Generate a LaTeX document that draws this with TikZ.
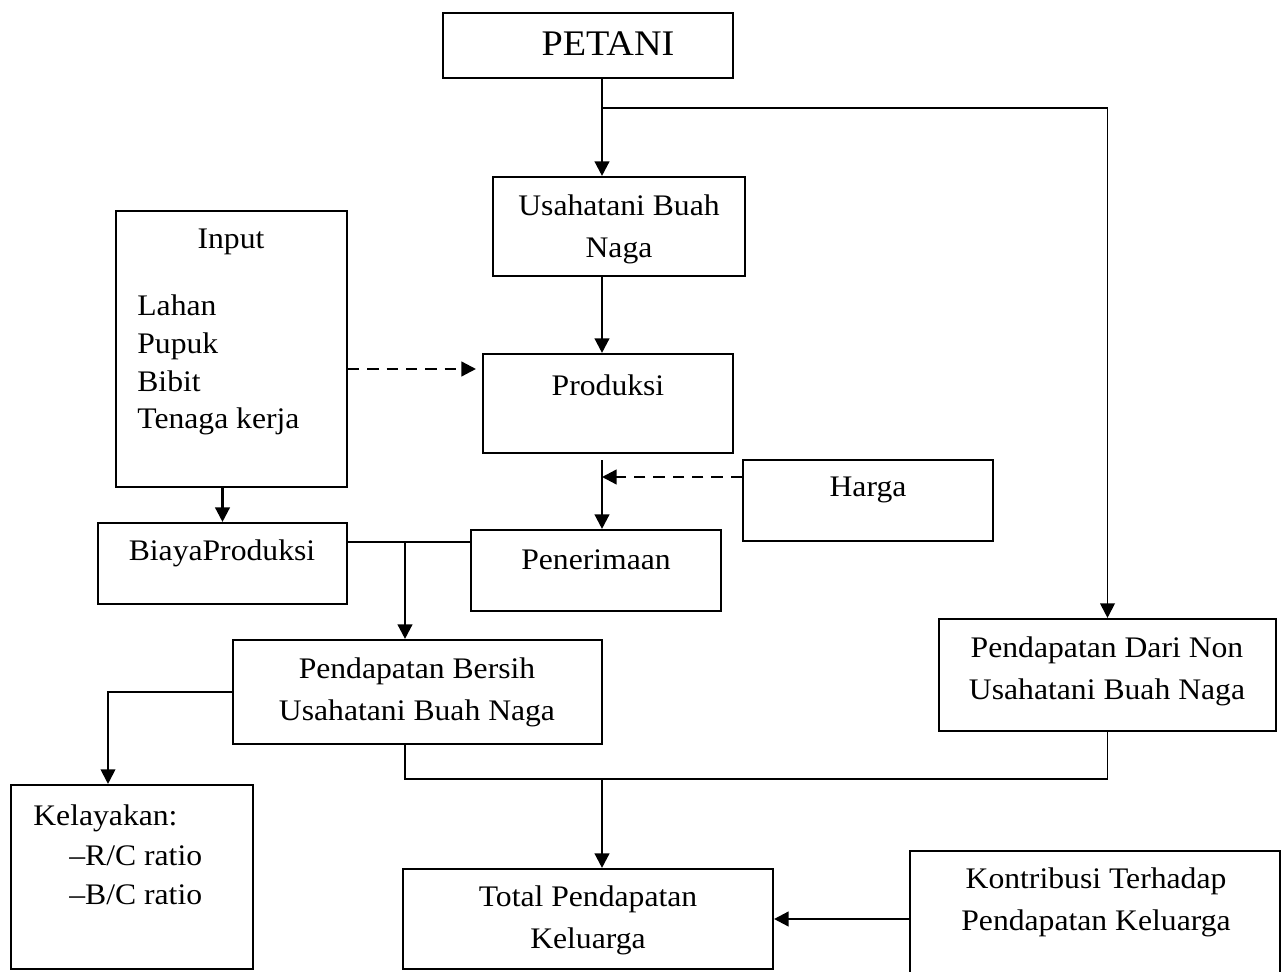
\documentclass[tikz,border=0pt]{standalone}
\usepackage{fontspec}
\setmainfont{Liberation Serif}[FakeStretch=1.06]
\usetikzlibrary{arrows.meta}

\begin{document}
\begin{tikzpicture}[x=0.02cm, y=-0.02cm,
  box/.style={draw, line width=1.2pt, inner sep=0pt},
  txt/.style={font=\fontsize{17}{24}\selectfont, inner sep=0pt, align=center},
  list/.style={font=\fontsize{17}{21.5}\selectfont, inner sep=0pt, align=left, anchor=west},
  arr/.style={-{Triangle[length=0.29cm,width=0.29cm]}, line width=1.35pt},
  dash arr/.style={arr, dash pattern=on 6.5pt off 4.5pt}]

    \useasboundingbox (0,0) rectangle (1281,972);

    % kotak
    \node[box, minimum width=5.8cm, minimum height=1.3cm] (petani) at (588,45.5) {};
    \node[box, minimum width=5.04cm, minimum height=1.98cm] (usaha) at (619,226.5) {};
    \node[box, minimum width=4.62cm, minimum height=5.52cm] (input) at (231.5,349) {};
    \node[box, minimum width=5cm, minimum height=1.98cm] (prod) at (608,403.5) {};
    \node[box, minimum width=5cm, minimum height=1.62cm] (harga) at (868,500.5) {};
    \node[box, minimum width=4.98cm, minimum height=1.62cm] (biaya) at (222.5,563.5) {};
    \node[box, minimum width=5cm, minimum height=1.62cm] (terima) at (596,570.5) {};
    \node[box, minimum width=7.38cm, minimum height=2.08cm] (bersih) at (417.5,692) {};
    \node[box, minimum width=6.74cm, minimum height=2.24cm] (nonusaha) at (1107.5,675) {};
    \node[box, minimum width=4.84cm, minimum height=3.68cm] (layak) at (132,877) {};
    \node[box, minimum width=7.4cm, minimum height=2cm] (total) at (588,919) {};
    \node[box, minimum width=7.4cm, minimum height=2.78cm] (kontrib) at (1095,920.5) {};

    % teks
    \node[txt, font=\fontsize{20.5}{24}\selectfont] (petani-t) at (608,44) {PETANI};
    \node[txt] (usaha-t) at (619,229) {Usahatani Buah\\Naga};
    \node[txt] (input-t) at (231,242) {Input};
    \node[list] (input-l) at (137,365) {Lahan\\Pupuk\\Bibit\\Tenaga kerja};
    \node[txt] (prod-t) at (608,385) {Produksi};
    \node[txt] (harga-t) at (868,490) {Harga};
    \node[txt] (biaya-t) at (222,553) {BiayaProduksi};
    \node[txt] (terima-t) at (596,560) {Penerimaan};
    \node[txt] (bersih-t) at (417,692) {Pendapatan Bersih\\Usahatani Buah Naga};
    \node[txt] (nonusaha-t) at (1107,671) {Pendapatan Dari Non\\Usahatani Buah Naga};
    \node[list, font=\fontsize{17}{22.5}\selectfont] (layak-t) at (33,855) {Kelayakan:\\\hspace{0.72cm}–R/C ratio\\\hspace{0.72cm}–B/C ratio};
    \node[txt] (total-t) at (588,920) {Total Pendapatan\\Keluarga};
    \node[txt] (kontrib-t) at (1096,902) {Kontribusi Terhadap\\Pendapatan Keluarga};

    % titik bantu
    \coordinate (trunk) at (602,0);
    \coordinate (split) at (602,108);
    \coordinate (hp) at (602,477);
    \coordinate (iy) at (0,369);
    \coordinate (jn) at (405,542);
    \coordinate (kl) at (108,0);
    \coordinate (mg) at (602,779);

    % panah
    \draw[arr] (petani.south -| trunk) -- (usaha.north -| trunk);
    \draw[arr, line width=1.1pt] (split) -| (nonusaha.north);
    \draw[arr] (usaha.south -| trunk) -- (prod.north -| trunk);
    \draw[arr] ([yshift=-0.12cm]prod.south -| trunk) -- (terima.north -| trunk);
    \draw[dash arr] (harga.west |- hp) -- (hp);
    \draw[dash arr, shorten >=0.12cm] (input.east |- iy) -- (prod.west |- iy);
    \draw[arr] (input.south -| biaya.north) -- (biaya.north);
    \draw[line width=1.1pt] (biaya.east |- jn) -- (terima.west |- jn);
    \draw[arr] (jn) -- (bersih.north -| jn);
    \draw[arr, line width=1.1pt] (bersih.west) -| (layak.north -| kl);
    \draw[line width=1.1pt] (bersih.south -| jn) |- (mg) -| (nonusaha.south);
    \draw[arr] (mg) -- (total.north -| mg);
    \draw[arr] (kontrib.west |- total) -- (total.east);

\end{tikzpicture}
\end{document}
